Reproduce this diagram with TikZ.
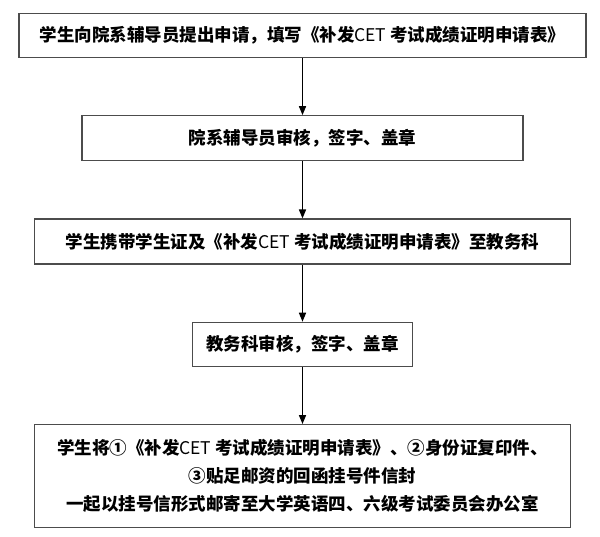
\documentclass[tikz,border=0pt]{standalone}
\usepackage{fontspec}
\newfontfamily\cjk{Noto Sans CJK SC}
\usepackage{tikz}
\usetikzlibrary{
        arrows.meta,
        positioning
    }
\tikzset{>={Triangle[length=9pt,width=7pt]},node distance=57pt}
\tikzset{stepbox/.style={draw=black!70,line width=1.3pt,minimum height=44pt,inner sep=0pt,align=center,
        font=\cjk\bfseries\fontsize{17.5}{28}\selectfont}}

\begin{document}
\begin{tikzpicture}[x=1pt,y=-1pt,line width=1.5pt]
                \useasboundingbox (0,0) rectangle (600,537);
                \node[stepbox,minimum width=567pt] (apply) at (302.5,35.5) {学生向院系辅导员提出申请，填写《补发{\mdseries CET} 考试成绩证明申请表》};
                \node[stepbox,minimum width=441pt,minimum height=45pt] (tutor) [below=of apply] {院系辅导员审核，签字、盖章};
                \node[stepbox,minimum width=536pt,minimum height=45pt] (office) [below=of tutor] {学生携带学生证及《补发{\mdseries CET} 考试成绩证明申请表》至教务科};
                \node[stepbox,minimum width=220pt] (check) [below=of office] {教务科审核，签字、盖章};
                \node[stepbox,minimum width=536pt,minimum height=103pt] (mail) [below=of check] {学生将①《补发{\mdseries CET} 考试成绩证明申请表》、②身份证复印件、\\③贴足邮资的回函挂号件信封\\一起以挂号信形式邮寄至大学英语四、六级考试委员会办公室};
                \path[->]
                    (apply)  edge (tutor)
                    (tutor)  edge (office)
                    (office) edge (check)
                    (check)  edge (mail)
                ;
            \end{tikzpicture}
\end{document}
